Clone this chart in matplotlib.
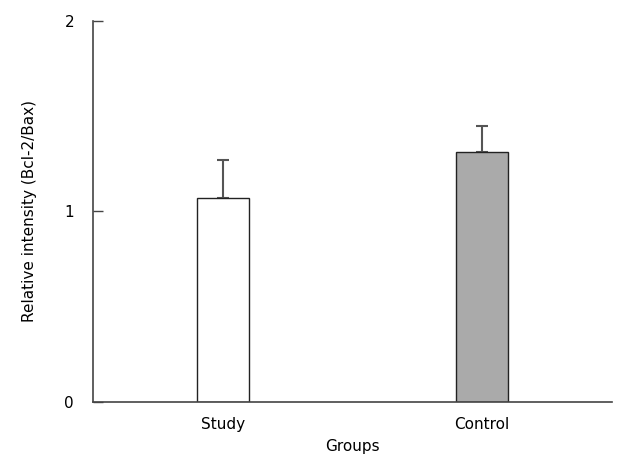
import matplotlib
matplotlib.use("Agg")
import matplotlib.pyplot as plt

categories = ["Study", "Control"]
values = [1.07, 1.31]
errors = [0.20, 0.14]
colors = ["#ffffff", "#aaaaaa"]
yticks = [0, 1, 2]

plt.rcParams['font.family'] = ['DejaVu Sans']
fig = plt.figure(figsize=(6.3, 4.65), dpi=100)
ax = fig.add_axes([0.1484, 0.1355, 0.8226, 0.8195])

xpos = [0.25, 0.75]
ax.bar(xpos, values, width=0.1, color=colors, edgecolor="#222222", linewidth=1.0, zorder=2)
ax.errorbar(xpos, values, yerr=[[0, 0], errors], fmt="none", ecolor="#555555",
            elinewidth=1.5, capsize=4.5, capthick=1.5, zorder=1)

ax.set_xlim(0, 1)
ax.set_ylim(0, 2)
ax.set_xticks(xpos)
ax.set_xticklabels(categories, fontsize=11)
ax.tick_params(axis='x', length=0, pad=11)
ax.set_yticks(yticks)
ax.set_yticklabels([str(t) for t in yticks], fontsize=11)
ax.tick_params(axis='y', direction='in', length=7, width=1, color="#444444", pad=14)
for s in ["top", "right"]:
    ax.spines[s].set_visible(False)
for s in ["left", "bottom"]:
    ax.spines[s].set_color("#444444")
    ax.spines[s].set_linewidth(1.2)
ax.set_xlabel("Groups", fontsize=11, labelpad=5)
ax.set_ylabel("Relative intensity (Bcl-2/Bax)", fontsize=11, labelpad=20)

fig.savefig("out.png", dpi=100)
